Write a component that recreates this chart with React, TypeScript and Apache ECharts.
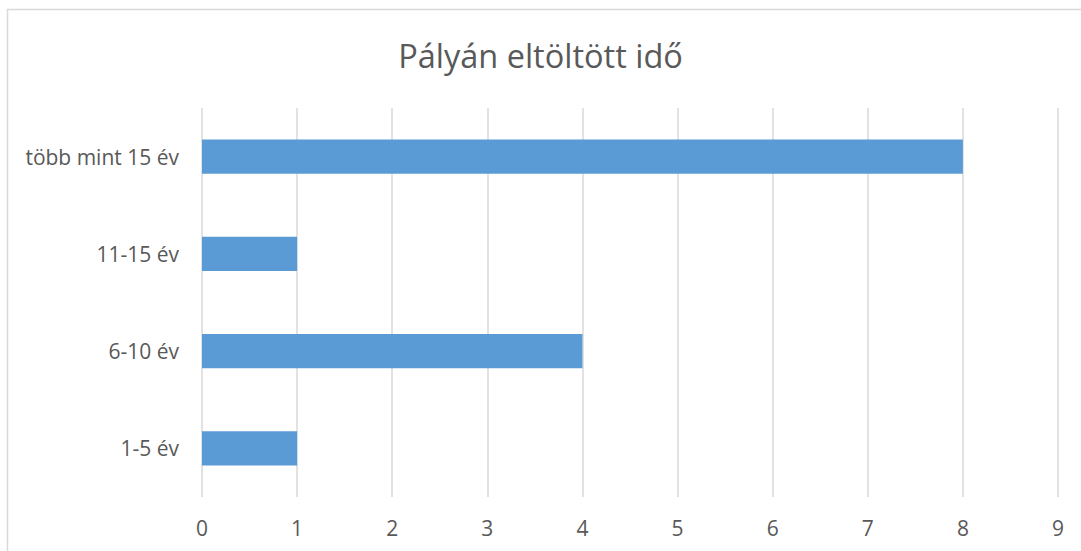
import React, { useEffect, useRef } from "react";
import * as echarts from "echarts";

const title = "Pályán eltöltött idő";
const categories = ["1-5 év", "6-10 év", "11-15 év", "több mint 15 év"];
const values = [1, 4, 1, 8];

export default function App() {
  const ref = useRef<HTMLDivElement>(null);
  useEffect(() => {
    if (!ref.current) return;
    const chart = echarts.init(ref.current, undefined, { renderer: "svg" });
    chart.setOption({
      animation: false,
      backgroundColor: "#ffffff",
      title: {
        text: title,
        left: "center",
        top: 34,
        textStyle: {
          fontFamily: "Open Sans",
          fontWeight: "normal",
          fontSize: 32.5,
          color: "#595959",
        },
      },
      graphic: [
        {
          type: "rect",
          shape: { x: 7.5, y: 9.5, width: 1200, height: 700 },
          style: { fill: "none", stroke: "#d9d9d9", lineWidth: 1.5 },
          silent: true,
        },
      ],
      grid: { left: 202, right: 23, top: 108, bottom: 54, containLabel: false },
      xAxis: {
        type: "value",
        min: 0,
        max: 9,
        interval: 1,
        axisLine: { show: false },
        axisTick: { show: false },
        splitLine: { show: true, lineStyle: { color: "#d9d9d9", width: 1.5 } },
        axisLabel: {
          margin: 20,
          fontFamily: "Open Sans",
          fontSize: 21,
          color: "#595959",
        },
      },
      yAxis: {
        type: "category",
        data: categories,
        axisLine: { show: false },
        axisTick: { show: false },
        axisLabel: {
          margin: 23,
          fontFamily: "Open Sans",
          fontSize: 21,
          color: "#595959",
        },
      },
      series: [
        {
          type: "bar",
          data: values,
          barWidth: "35%",
          itemStyle: { color: "#5b9bd5" },
        },
      ],
    });
    return () => chart.dispose();
  }, []);
  return (
    <div
      ref={ref}
      style={{ position: "fixed", left: 0, top: 0, width: 1081, height: 551 }}
    />
  );
}
